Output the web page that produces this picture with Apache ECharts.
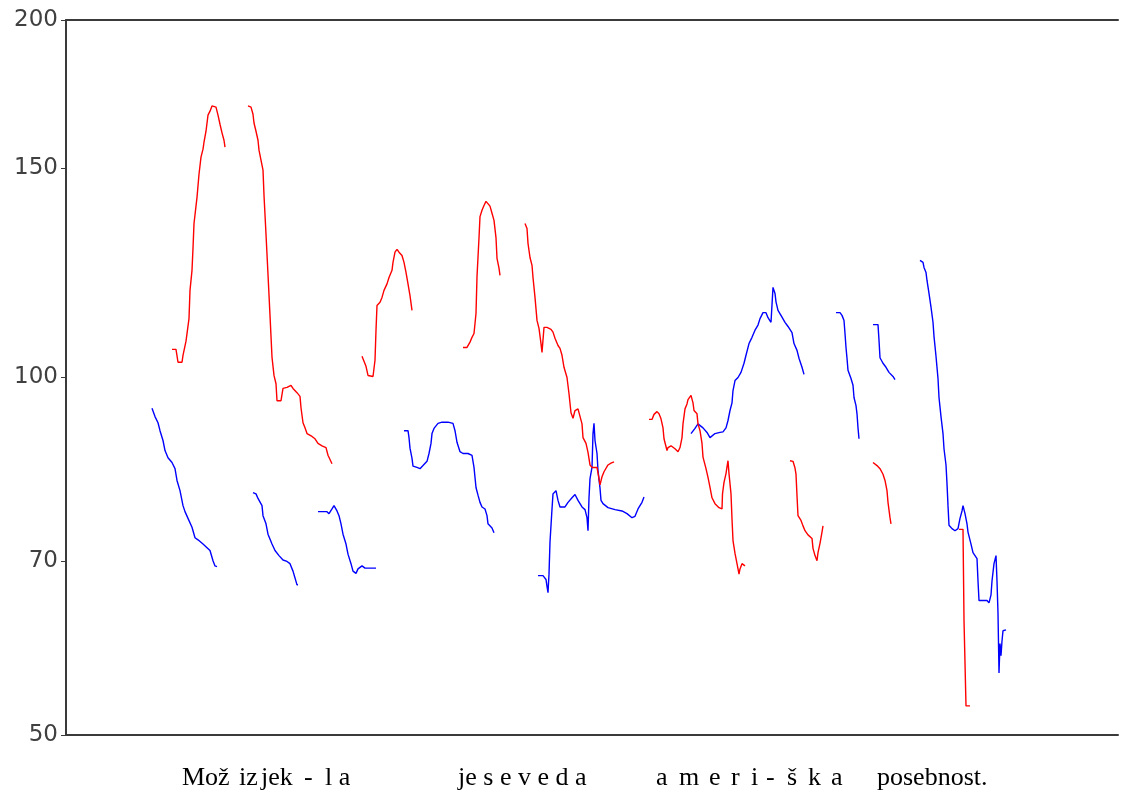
<!DOCTYPE html>
<html>
<head>
<meta charset="utf-8">
<script src="https://cdn.jsdelivr.net/npm/echarts@6/dist/echarts.min.js"></script>
<style>
  html, body { margin: 0; padding: 0; background: #fff; }
  #chart { width: 1121px; height: 798px; }
</style>
</head>
<body>
<div id="chart"></div>
<script>
// Pitch (F0) contours, time in ms, frequency in Hz on a log scale.
const yTicks = [50, 70, 100, 150, 200];
const timeRange = [0, 2104];

// Red contour pieces: [time ms, Hz]
const red1 = [[212,105.6],[220,105.6],[224,103.0],[232,103.0],[234,104.4],[240,107.3],[244,107.3],[246,112.1],[248,118.4],[252,123.1],[254,128.5],[256,134.8],[262,141.8],[266,148.3],[270,153.3],[274,155.7],[276,157.8],[280,161.2],[284,166.3],[288,167.6],[292,169.3],[296,169.6],[300,168.9],[304,166.3],[308,163.4],[312,160.7],[316,158.4],[318,156.3]];
const red2 = [[364,169.3],[370,168.9],[374,166.6],[376,163.8],[380,161.2],[384,158.4],[386,155.4],[390,152.4],[394,149.5],[396,142.4],[400,132.0],[404,122.1],[408,112.8],[412,104.0],[416,100.4],[420,98.8],[422,95.6],[430,95.6],[434,97.9],[442,98.1],[450,98.5],[454,97.9],[462,97.1],[468,96.4],[470,94.3],[474,91.6],[478,90.7],[482,89.7],[492,89.2],[498,88.8],[504,88.0],[512,87.6],[520,87.3],[524,86.0],[532,84.6]];
const red3 = [[592,104.2],[596,103.8],[600,102.2],[604,100.4],[614,100.2],[618,103.4],[620,109.6],[622,115.0],[628,115.7],[632,116.8],[636,118.4],[642,119.9],[646,121.4],[652,123.1],[654,125.0],[658,127.5],[662,128.2],[666,127.5],[672,126.7],[676,125.0],[680,122.6],[684,119.9],[688,117.2],[692,113.9]];
const red4 = [[794,106.0],[802,106.0],[808,107.1],[812,108.1],[816,108.9],[820,113.2],[822,121.6],[826,131.1],[828,136.6],[832,138.3],[836,139.6],[840,140.7],[844,140.4],[848,139.4],[852,137.5],[856,135.6],[860,131.1],[862,126.0],[866,123.6],[868,121.9]];
const red5 = [[918,134.8],[922,133.5],[924,129.7],[928,126.2],[932,124.3],[934,121.4],[938,116.8],[942,111.7],[946,110.0],[950,106.8],[952,105.0],[956,110.2],[962,110.2],[970,109.8],[974,109.2],[978,107.9],[984,106.4],[988,105.8],[992,104.4],[996,102.0],[1002,100.0],[1006,96.9],[1010,93.4],[1014,92.4],[1018,93.8],[1024,94.1],[1028,94.1],[1032,91.4],[1034,89.0],[1040,88.0],[1044,86.5],[1048,84.4],[1052,84.0],[1062,84.0],[1064,83.1],[1068,81.2],[1072,82.5],[1076,83.3],[1084,84.4],[1090,84.7],[1096,84.9]];
const red6 = [[1166,92.2],[1172,92.2],[1176,93.1],[1182,93.6],[1186,93.2],[1190,92.3],[1194,90.7],[1196,88.8],[1202,86.8],[1204,87.3],[1210,87.6],[1214,87.3],[1218,87.1],[1224,86.6],[1228,87.3],[1232,89.0],[1234,91.4],[1238,94.1],[1242,95.0],[1244,95.8],[1250,96.6],[1254,95.2],[1256,93.8],[1262,93.2],[1264,91.4],[1268,90.2],[1272,88.0],[1274,85.7],[1280,83.8],[1284,82.4],[1288,80.8],[1292,79.2],[1298,78.3],[1306,77.7],[1312,77.5],[1313,79.8],[1316,81.6],[1320,83.0],[1322,84.1],[1324,85.1],[1326,83.0],[1330,79.8],[1332,76.0],[1334,72.9],[1338,71.1],[1342,69.7],[1346,68.3],[1348,69.0],[1352,69.7],[1358,69.4]];
const red7 = [[1448,85.1],[1454,85.0],[1458,83.9],[1460,82.9],[1462,79.5],[1464,76.5],[1470,75.8],[1474,75.0],[1478,74.3],[1484,73.7],[1492,73.2],[1494,71.8],[1498,70.8],[1502,70.1],[1504,71.2],[1508,72.5],[1512,74.1],[1514,75.0]];
const red8 = [[1614,84.8],[1622,84.3],[1628,83.8],[1634,82.9],[1638,81.9],[1642,80.3],[1644,78.5],[1648,76.2],[1650,75.3]];
const red9 = [[1786,74.5],[1794,74.5],[1796,62.5],[1798,62.5],[1800,52.9],[1808,52.9]];

// Blue contour pieces: [time ms, Hz]
const blue1 = [[172,94.2],[178,92.7],[184,91.6],[188,90.2],[194,88.5],[198,86.8],[204,85.6],[212,84.8],[218,83.8],[222,81.9],[228,80.3],[234,78.0],[238,77.1],[244,76.1],[252,74.8],[258,73.3],[264,73.0],[274,72.4],[282,71.9],[288,71.5],[294,70.1],[298,69.4],[302,69.3]];
const blue2 = [[374,80.0],[380,79.8],[384,79.1],[392,78.0],[394,76.5],[400,75.3],[404,73.8],[412,72.4],[418,71.5],[426,70.8],[434,70.2],[442,70.0],[448,69.7],[454,68.7],[458,67.8],[462,66.9],[464,66.9]];
const blue3 = [[504,77.1],[522,77.1],[526,76.8],[532,77.5],[536,78.0],[542,77.2],[546,76.5],[550,75.3],[554,73.8],[560,72.4],[564,71.0],[570,69.7],[574,68.7],[580,68.4],[584,69.0],[592,69.4],[598,69.1],[608,69.1],[620,69.1]];
const blue4 = [[676,90.2],[684,90.2],[686,89.0],[688,87.2],[692,85.5],[694,84.2],[702,84.0],[708,83.8],[714,84.3],[722,85.0],[726,86.3],[730,88.0],[732,89.7],[736,90.6],[744,91.5],[752,91.7],[764,91.7],[774,91.5],[778,90.2],[782,88.2],[788,86.6],[794,86.3],[804,86.3],[812,86.0],[816,84.0],[820,80.8],[824,79.6],[828,78.5],[832,77.8],[838,77.5],[842,76.5],[844,75.3],[852,74.7],[856,74.0]];
const blue5 = [[944,68.1],[954,68.1],[960,67.6],[962,66.7],[964,65.9],[966,68.3],[968,72.7],[972,77.5],[974,79.8],[980,80.3],[984,78.8],[988,77.8],[998,77.8],[1004,78.5],[1012,79.2],[1018,79.7],[1024,78.8],[1032,77.8],[1038,77.4],[1042,76.2],[1044,74.3],[1046,79.2],[1048,82.2],[1052,84.0],[1054,89.7],[1056,91.5],[1058,88.5],[1062,86.3],[1064,83.5],[1068,80.7],[1070,78.8],[1074,78.3],[1084,77.7],[1098,77.4],[1112,77.2],[1122,76.8],[1132,76.2],[1138,76.4],[1144,77.5],[1152,78.5],[1156,79.3]];
const blue6 = [[1250,89.7],[1258,90.6],[1264,91.4],[1268,91.4],[1274,90.7],[1282,89.9],[1288,89.0],[1292,88.8],[1298,89.7],[1308,89.9],[1314,90.0],[1320,90.7],[1324,92.0],[1328,93.8],[1332,95.2],[1334,97.5],[1338,99.4],[1344,100.0],[1350,101.0],[1356,102.8],[1360,104.4],[1366,106.8],[1372,108.1],[1378,109.6],[1384,110.7],[1388,112.1],[1394,113.4],[1400,113.4],[1404,112.3],[1410,111.3],[1412,111.1],[1414,119.1],[1418,117.7],[1420,115.8],[1424,113.9],[1432,112.4],[1438,111.3],[1444,110.4],[1452,109.1],[1456,106.8],[1462,105.4],[1466,103.8],[1472,102.0],[1476,100.6]];
const blue7 = [[1540,113.4],[1548,113.4],[1552,112.8],[1556,111.7],[1558,108.9],[1560,106.0],[1562,103.8],[1564,101.4],[1570,99.8],[1574,98.5],[1576,96.2],[1580,94.7],[1582,93.2],[1584,90.7],[1586,88.8]];
const blue8 = [[1614,110.8],[1624,110.8],[1626,107.5],[1628,103.9],[1634,102.8],[1640,102.0],[1646,101.0],[1654,100.2],[1658,99.6]];
const blue9 = [[1708,125.5],[1714,125.0],[1716,123.8],[1720,122.6],[1722,120.7],[1726,117.7],[1730,114.6],[1734,111.3],[1736,108.3],[1740,104.2],[1744,99.8],[1746,96.2],[1750,92.7],[1754,89.7],[1756,87.1],[1760,84.4],[1762,81.4],[1764,78.0],[1766,75.1],[1772,74.6],[1778,74.3],[1784,74.6],[1788,76.1],[1792,77.2],[1794,78.0],[1798,76.8],[1802,75.3],[1804,74.1],[1810,72.4],[1814,71.2],[1818,70.8],[1822,70.4],[1824,67.4],[1826,64.9],[1834,64.9],[1842,64.9],[1846,64.6],[1850,65.6],[1852,67.4],[1856,69.7],[1860,70.8],[1862,67.4],[1864,63.3],[1866,56.4],[1868,59.7],[1870,58.3],[1872,60.0],[1874,61.2],[1880,61.3]];

const redPieces = [red1, red2, red3, red4, red5, red6, red7, red8, red9];
const bluePieces = [blue1, blue2, blue3, blue4, blue5, blue6, blue7, blue8, blue9];

// Syllable transcription under the time axis: [text, left x]
const syllables = [
  ['Mož', 182], ['iz', 239], ['jek', 261], ['-', 304], ['l a', 325],
  ['je s e v e d a', 458],
  ['a', 656], ['m', 679], ['e', 709], ['r', 731], ['i', 751], ['-', 766], ['š', 787], ['k', 808], ['a', 831],
  ['posebnost.', 877]
];

const AXIS_COLOR = '#3a3a3a';

function contour(data, color) {
  return {
    type: 'line',
    data: data,
    showSymbol: false,
    symbol: 'none',
    animation: false,
    silent: true,
    lineStyle: { color: color, width: 1.4 },
    emphasis: { disabled: true }
  };
}

const series = []
  .concat(bluePieces.map(d => contour(d, '#0000ff')))
  .concat(redPieces.map(d => contour(d, '#ff0000')));

const chart = echarts.init(document.getElementById('chart'), null, { renderer: 'canvas' });
chart.setOption({
  backgroundColor: '#ffffff',
  animation: false,
  grid: { left: 66, right: 3, top: 20, bottom: 63, containLabel: false },
  xAxis: [
    {
      type: 'value', min: timeRange[0], max: timeRange[1], position: 'bottom',
      axisLine: { show: true, onZero: false, lineStyle: { color: AXIS_COLOR, width: 2 } },
      axisTick: { show: false }, axisLabel: { show: false }, splitLine: { show: false }
    },
    {
      type: 'value', min: timeRange[0], max: timeRange[1], position: 'top',
      axisLine: { show: true, onZero: false, lineStyle: { color: AXIS_COLOR, width: 2 } },
      axisTick: { show: false }, axisLabel: { show: false }, splitLine: { show: false }
    }
  ],
  yAxis: {
    type: 'log', logBase: 10, min: 50, max: 200,
    axisLine: { show: true, onZero: false, lineStyle: { color: AXIS_COLOR, width: 2 } },
    axisTick: { show: true, customValues: yTicks, length: 5, lineStyle: { color: AXIS_COLOR, width: 1 } },
    axisLabel: {
      show: true, customValues: yTicks, margin: 8,
      color: '#404040', fontFamily: 'DejaVu Sans', fontSize: 23
    },
    splitLine: { show: false }, minorTick: { show: false }
  },
  series: series,
  graphic: syllables.map(([t, x]) => ({
    type: 'text', left: x, top: 765, silent: true,
    style: { text: t, fill: '#000', font: '26px "Liberation Serif"' }
  }))
});
</script>
</body>
</html>
